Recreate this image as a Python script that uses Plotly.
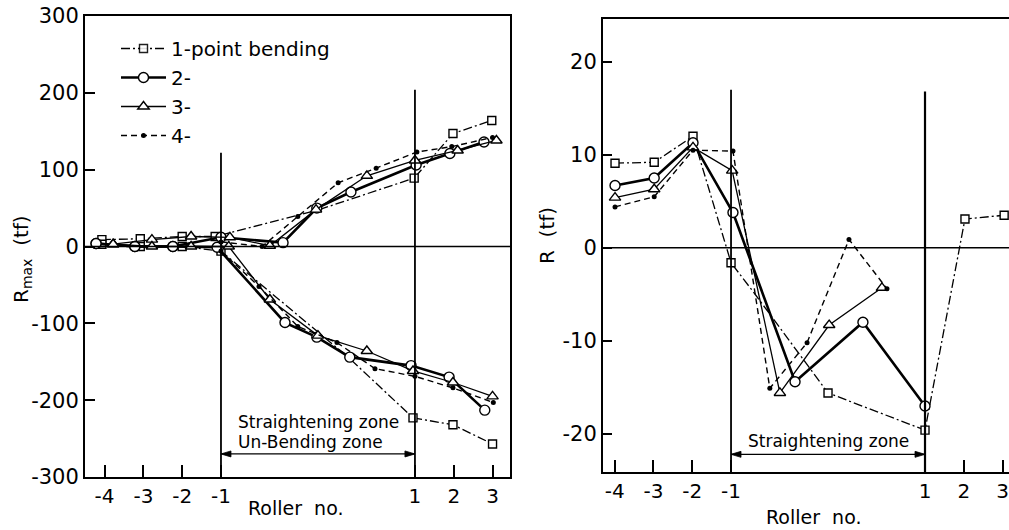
import plotly.graph_objects as go

# x positions: -4..-1 are the upstream rollers, 0..3 lie inside the
# straightening zone, 4, 5, 6 are rollers 1, 2, 3 downstream.
TICK_POS = [-4, -3, -2, -1, 4, 5, 6]
TICK_TXT = ["-4", "-3", "-2", "-1", "1", "2", "3"]
SERIES_NAMES = ["1-point bending", "2-", "3-", "4-"]

# ---- Left panel: Rmax (tf), positive and negative envelopes ----
s1_up_x = [-4.07, -3.08, -2.0, -1.15, 1.47, 3.98, 4.98, 5.98]
s1_up_y = [9, 10, 13, 13, 47, 89, 147, 164]
s1_up_bend = [4]
s1_lo_x = [-4.07, -3.08, -2.0, -1.0, 2.3, 3.95, 4.98, 6.0]
s1_lo_y = [3, 0, 0, -6, -145, -223, -232, -257]
s1_lo_bend = [4]

s2_up_x = [-4.22, -3.22, -2.24, -1.0, 0.6, 1.47, 2.35, 4.03, 4.9, 5.78]
s2_up_y = [4, 0, 0, 12, 5, 50, 71, 106, 121, 136]
s2_lo_x = [-4.22, -3.22, -2.24, -1.1, 0.65, 1.47, 2.32, 3.9, 4.88, 5.8]
s2_lo_y = [4, 0, 0, -1, -99, -118, -144, -155, -170, -213]

s3_up_x = [-3.78, -2.78, -1.77, -0.77, 0.26, 1.45, 2.76, 4.0, 5.1, 6.1]
s3_up_y = [3, 9, 13, 12, 1, 48, 92, 112, 125, 138]
s3_lo_x = [-3.78, -2.78, -1.77, -0.8, 0.26, 1.5, 2.76, 3.95, 4.98, 6.0]
s3_lo_y = [3, 0, 0, 0, -69, -116, -136, -162, -177, -195]

s4_up_x = [-1.0, 0.06, 0.98, 2.02, 3.0, 4.05, 4.95, 6.0]
s4_up_y = [6, 0, 39, 83, 102, 123, 130, 142]
s4_lo_x = [-1.0, -0.02, 0.98, 1.99, 2.97, 4.0, 4.98, 6.02]
s4_lo_y = [-6, -52, -104, -125, -159, -169, -184, -203]

# ---- Right panel: R (tf) ----
r1_x = [-3.99, -2.98, -1.98, -1.0, -0.36, 1.5, 4.0, 5.03, 6.04]
r1_y = [9.1, 9.2, 12.0, -1.6, -5.1, -15.6, -19.6, 3.1, 3.5]
r1_bend = [4]
r2_x = [-3.99, -2.98, -1.98, -0.95, 0.65, 2.40, 4.0]
r2_y = [6.7, 7.5, 11.3, 3.8, -14.4, -8.0, -17.0]
r3_x = [-3.99, -2.98, -1.98, -0.97, 0.26, 1.53, 2.89]
r3_y = [5.4, 6.3, 10.8, 8.3, -15.6, -8.3, -4.3]
r4_x = [-3.99, -2.98, -1.98, -0.95, 0.0, 0.96, 2.04, 3.02]
r4_y = [4.4, 5.5, 10.5, 10.4, -15.1, -10.2, 0.9, -4.4]

FONT = "DejaVu Sans"
INK = "black"

STYLES = [
    dict(line=dict(color=INK, width=1.3, dash="9px,3px,2px,3px"),
         marker=dict(symbol="square", size=8, color="white",
                     line=dict(color=INK, width=1.4))),
    dict(line=dict(color=INK, width=2.6),
         marker=dict(symbol="circle", size=10, color="white",
                     line=dict(color=INK, width=1.4))),
    dict(line=dict(color=INK, width=1.3),
         marker=dict(symbol="triangle-up", size=10, color="white",
                     line=dict(color=INK, width=1.4))),
    dict(line=dict(color=INK, width=1.4, dash="6px,4px"),
         marker=dict(symbol="circle", size=5, color=INK,
                     line=dict(color=INK, width=0))),
]

fig = go.Figure()


def add_curve(k, xs, ys, xa, ya, bend=(), legend=False):
    st = STYLES[k]
    mk = dict(st["marker"])
    mk["opacity"] = [0 if i in bend else 1 for i in range(len(xs))]
    fig.add_trace(go.Scatter(
        x=xs, y=ys, xaxis=xa, yaxis=ya, mode="lines+markers",
        line=st["line"], marker=mk, name=SERIES_NAMES[k],
        legendgroup=f"g{k}", showlegend=legend, cliponaxis=False,
    ))


left_curves = [
    (0, s1_up_x, s1_up_y, s1_up_bend), (0, s1_lo_x, s1_lo_y, s1_lo_bend),
    (1, s2_up_x, s2_up_y, ()), (1, s2_lo_x, s2_lo_y, ()),
    (2, s3_up_x, s3_up_y, ()), (2, s3_lo_x, s3_lo_y, ()),
    (3, s4_up_x, s4_up_y, ()), (3, s4_lo_x, s4_lo_y, ()),
]
seen = set()
for k, xs, ys, bend in left_curves:
    add_curve(k, xs, ys, "x", "y", bend, legend=k not in seen)
    seen.add(k)

right_curves = [
    (0, r1_x, r1_y, r1_bend), (1, r2_x, r2_y, ()),
    (2, r3_x, r3_y, ()), (3, r4_x, r4_y, ()),
]
for k, xs, ys, bend in right_curves:
    add_curve(k, xs, ys, "x2", "y2", bend)

W, H = 1009, 530
LX = (-4.505, 6.45)
LY = (-300, 300)
RX = (-4.30, 6.165)
RY = (-24.1, 24.6)
L_DOM_X = (85 / W, 510 / W)
L_DOM_Y = (1 - 477 / H, 1 - 16 / H)
R_DOM_X = (603 / W, 1.0)
R_DOM_Y = (1 - 472 / H, 1 - 19 / H)

axis_common = dict(
    showgrid=False, zeroline=False, showline=True, linecolor=INK,
    linewidth=2, ticks="inside", tickcolor=INK, tickwidth=1.5,
    automargin=False, fixedrange=True,
)

fig.update_layout(
    width=W, height=H,
    margin=dict(l=0, r=0, t=0, b=0),
    paper_bgcolor="white", plot_bgcolor="white",
    font=dict(family=FONT, color=INK),
    xaxis=dict(axis_common, domain=L_DOM_X, range=LX,
               tickvals=TICK_POS, ticktext=TICK_TXT, ticklen=12,
               mirror=True, tickfont=dict(size=20), anchor="y"),
    yaxis=dict(axis_common, domain=L_DOM_Y, range=LY,
               tickvals=[-300, -200, -100, 0, 100, 200, 300],
               ticktext=["-300", "-200", "-100", "0", "100", "200", "300"],
               ticklen=10, mirror=True, tickfont=dict(size=21), anchor="x"),
    xaxis2=dict(axis_common, domain=R_DOM_X, range=RX,
                tickvals=TICK_POS, ticktext=TICK_TXT, ticklen=12,
                mirror=True, tickfont=dict(size=20), anchor="y2"),
    yaxis2=dict(axis_common, domain=R_DOM_Y, range=RY,
                tickvals=[-20, -10, 0, 10, 20],
                ticktext=["-20", "-10", "0", "10", "20"],
                ticklen=9, mirror=False, tickfont=dict(size=21), anchor="x2"),
    showlegend=True,
    legend=dict(
        x=116 / W, y=1 - 29 / H, xanchor="left", yanchor="top",
        bgcolor="rgba(0,0,0,0)", borderwidth=0,
        font=dict(size=20, family=FONT), itemwidth=45,
        traceorder="grouped", tracegroupgap=0,
    ),
)


def units_per_px(rng, dom, total):
    return (rng[1] - rng[0]) / ((dom[1] - dom[0]) * total)


def double_arrow(xa, ya, x0, x1, yv, rx, dx, ry, dy):
    """Horizontal line with filled arrowheads at both ends."""
    hx = 10 * units_per_px(rx, dx, W)
    hy = 3 * units_per_px(ry, dy, H)
    line = dict(type="line", xref=xa, yref=ya, x0=x0, x1=x1, y0=yv, y1=yv,
                line=dict(color=INK, width=1.2))
    right = dict(type="path", xref=xa, yref=ya, fillcolor=INK,
                 line=dict(color=INK, width=0.8),
                 path=f"M {x1},{yv} L {x1 - hx},{yv + hy} L {x1 - hx},{yv - hy} Z")
    left = dict(type="path", xref=xa, yref=ya, fillcolor=INK,
                line=dict(color=INK, width=0.8),
                path=f"M {x0},{yv} L {x0 + hx},{yv + hy} L {x0 + hx},{yv - hy} Z")
    return [line, right, left]


# reference lines: zero level and zone boundaries
shapes = [
    dict(type="line", xref="x domain", yref="y", x0=0, x1=1, y0=0, y1=0,
         line=dict(color=INK, width=1.5)),
    dict(type="line", xref="x", yref="y", x0=-1, x1=-1, y0=-300, y1=122,
         line=dict(color=INK, width=1.8)),
    dict(type="line", xref="x", yref="y", x0=4, x1=4, y0=-300, y1=204,
         line=dict(color=INK, width=1.8)),
    dict(type="line", xref="x2 domain", yref="y2", x0=0, x1=1, y0=0, y1=0,
         line=dict(color=INK, width=1.5)),
    dict(type="line", xref="x2", yref="y2", x0=-1, x1=-1, y0=RY[0], y1=17.0,
         line=dict(color=INK, width=1.8)),
    dict(type="line", xref="x2", yref="y2", x0=4, x1=4, y0=RY[0], y1=16.8,
         line=dict(color=INK, width=2.2)),
]
shapes += double_arrow("x", "y", -1, 4, -270, LX, L_DOM_X, LY, L_DOM_Y)
shapes += double_arrow("x2", "y2", -1, 4, -22.2, RX, R_DOM_X, RY, R_DOM_Y)
fig.update_layout(shapes=shapes)

ann = [
    dict(x=-0.6, y=-228, xref="x", yref="y", text="Straightening zone",
         showarrow=False, xanchor="left", yanchor="middle",
         font=dict(size=17)),
    dict(x=-0.6, y=-254, xref="x", yref="y", text="Un-Bending zone",
         showarrow=False, xanchor="left", yanchor="middle",
         font=dict(size=17)),
    dict(x=1.5, y=-20.8, xref="x2", yref="y2", text="Straightening zone",
         showarrow=False, xanchor="center", yanchor="middle",
         font=dict(size=17)),
    # axis titles
    dict(x=295 / W, y=1 - 508 / H, xref="paper", yref="paper",
         text="Roller  no.", showarrow=False, font=dict(size=19),
         xanchor="center", yanchor="middle"),
    dict(x=813 / W, y=1 - 517 / H, xref="paper", yref="paper",
         text="Roller  no.", showarrow=False, font=dict(size=19),
         xanchor="center", yanchor="middle"),
    dict(x=22 / W, y=1 - 259 / H, xref="paper", yref="paper",
         text="R<sub>max</sub>  (tf)", showarrow=False, textangle=-90,
         font=dict(size=20), xanchor="center", yanchor="middle"),
    dict(x=547 / W, y=1 - 236 / H, xref="paper", yref="paper",
         text="R  (tf)", showarrow=False, textangle=-90,
         font=dict(size=20), xanchor="center", yanchor="middle"),
]
fig.update_layout(annotations=ann)

fig.write_html("out.html")
